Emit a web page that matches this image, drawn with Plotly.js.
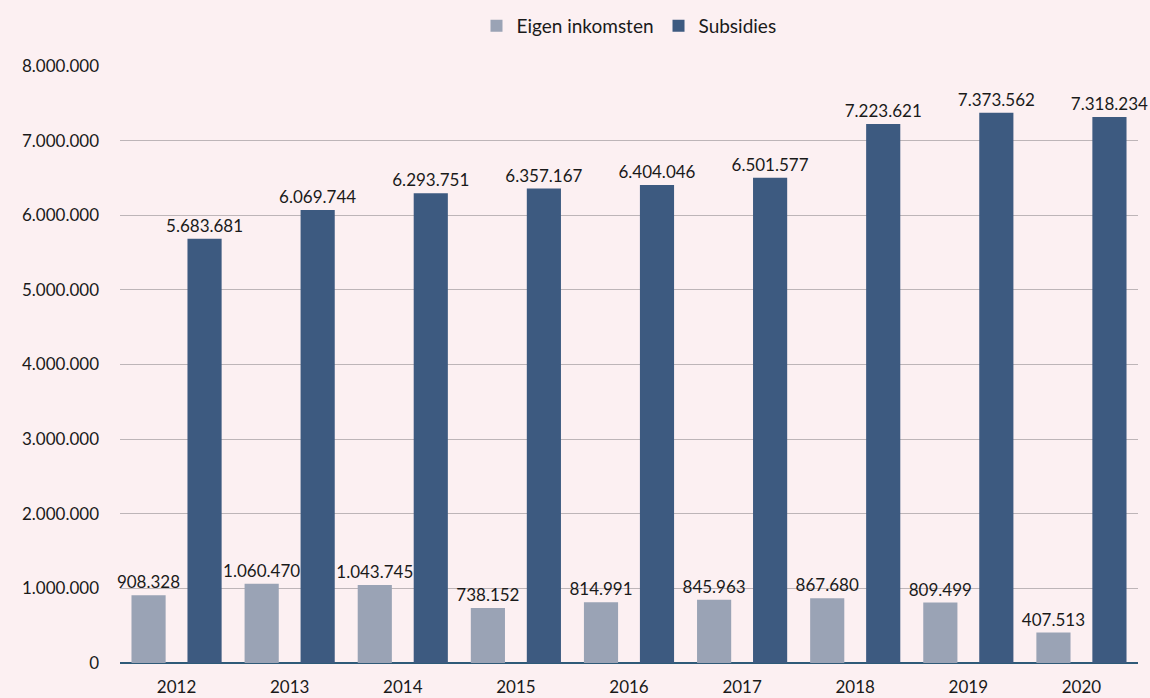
<!DOCTYPE html>
<html><head><meta charset="utf-8">
<script src="https://cdn.plot.ly/plotly-3.0.1.min.js"></script>
<style>html,body{margin:0;padding:0;background:#fcf0f2;}</style>
</head><body>
<div id="chart" style="width:1150px;height:698px;"></div>
<script>
var years = ['2012','2013','2014','2015','2016','2017','2018','2019','2020'];
var eigenInkomsten = [908328,1060470,1043745,738152,814991,845963,867680,809499,407513];
var subsidies = [5683681,6069744,6293751,6357167,6404046,6501577,7223621,7373562,7318234];
var tickVals = [0,1000000,2000000,3000000,4000000,5000000,6000000,7000000,8000000];

var font = {family:'Lato, "Open Sans", sans-serif', size:17, color:'#1a1a1a'};
var legendFont = {family:'Lato, "Open Sans", sans-serif', size:19, color:'#1a1a1a'};
var traces = [
  {type:'bar', name:'Eigen inkomsten', x:years, y:eigenInkomsten, marker:{color:'#9aa3b5'},
   texttemplate:'%{y:,}', textposition:'outside', constraintext:'none', cliponaxis:false, textfont:font},
  {type:'bar', name:'Subsidies', x:years, y:subsidies, marker:{color:'#3d5a80'},
   texttemplate:'%{y:,}', textposition:'outside', constraintext:'none', cliponaxis:false, textfont:font}
];
var layout = {
  width:1150, height:698,
  paper_bgcolor:'#fcf0f2', plot_bgcolor:'#fcf0f2',
  separators:',.',
  font:font,
  barmode:'group', bargap:0.01, bargroupgap:0.39,
  margin:{l:120, r:12, t:66, b:35},
  showlegend:true,
  legend:{orientation:'h', x:0.5, xanchor:'center', y:0.963, yref:'container', yanchor:'middle', font:legendFont, itemwidth:30},
  xaxis:{type:'category', showgrid:false, ticks:'', tickfont:font, showline:false, zeroline:false, ticklabelstandoff:12},
  yaxis:{range:[0,8000000], tickvals:tickVals, tickformat:',', tickfont:font, gridcolor:'#bdb5b8', gridwidth:1,
         zeroline:true, zerolinecolor:'#2f5a78', zerolinewidth:2, ticks:'', ticklabelstandoff:20, showline:false}
};
Plotly.newPlot('chart', traces, layout, {displayModeBar:false});
</script>
</body></html>
